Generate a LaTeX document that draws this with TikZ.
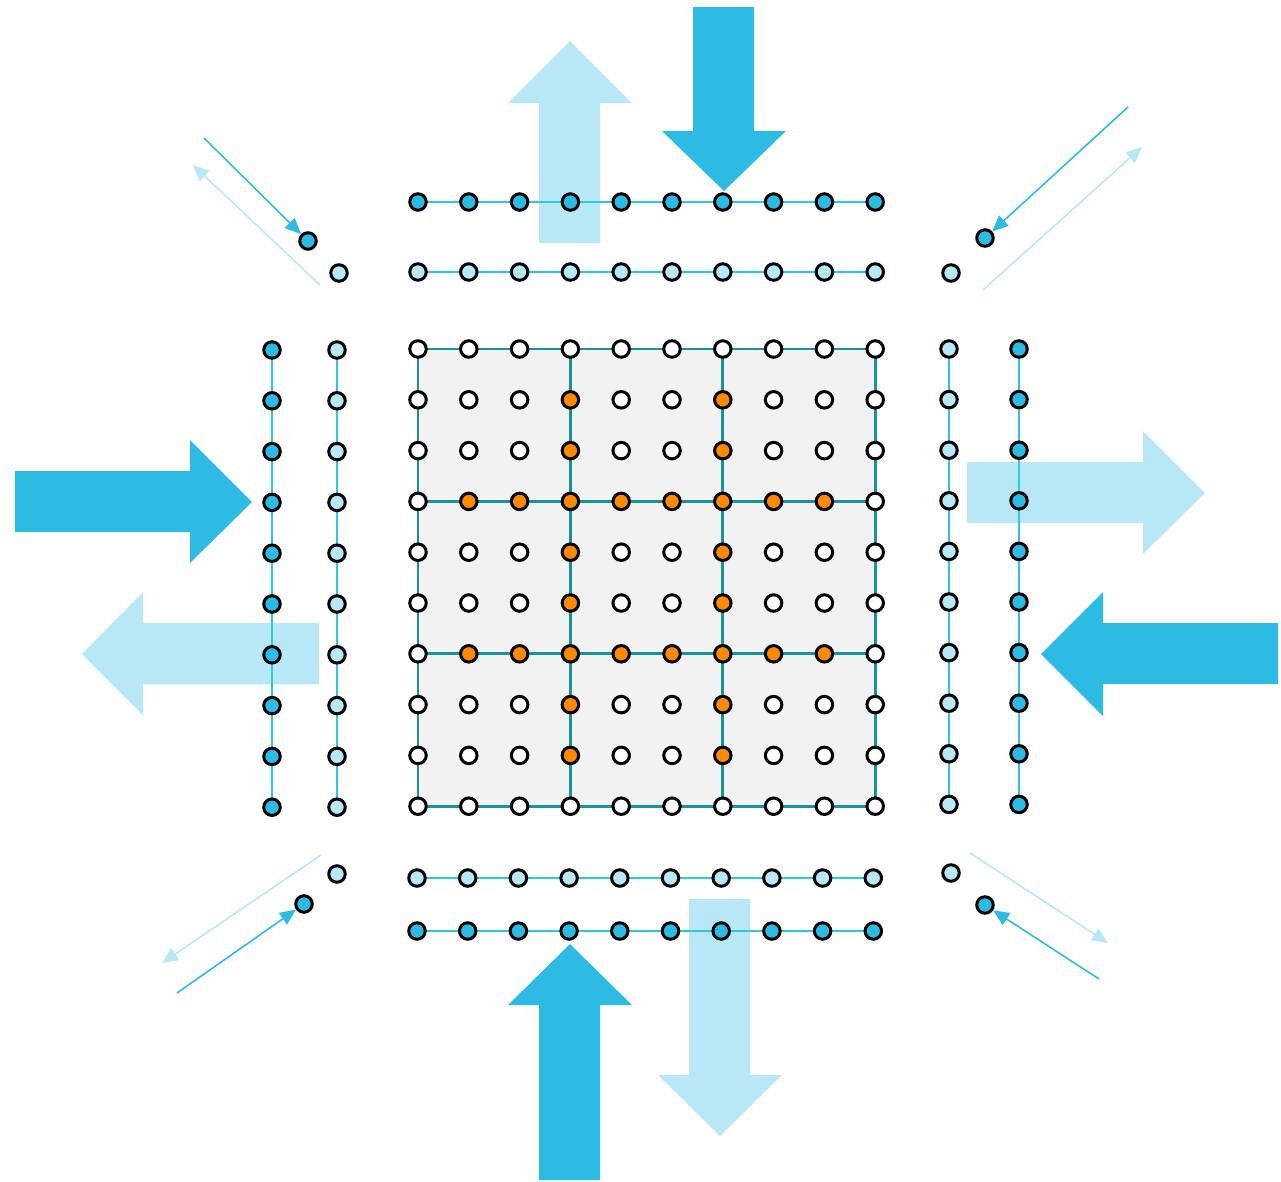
\documentclass[tikz,border=0pt]{standalone}
\usetikzlibrary{arrows.meta,backgrounds}
\definecolor{cdark}{HTML}{2EBBE3}
\definecolor{clight}{HTML}{B8E8F6}
\definecolor{corange}{HTML}{FF8A00}
\definecolor{cteal}{HTML}{17939B}
\definecolor{clink}{HTML}{2BC9DA}
\definecolor{cpanel}{HTML}{F2F2F2}
\tikzset{
  dot/.style={circle, draw=black, line width=0.85pt, minimum size=0.165cm, inner sep=0pt},
  darkdot/.style={dot, fill=cdark},
  lightdot/.style={dot, fill=clight},
  whitedot/.style={dot, fill=white},
  orangedot/.style={dot, fill=corange},
  link/.style={draw=clink, line width=0.4pt},
  gridline/.style={draw=cteal, line width=0.75pt},
  bigdark/.style={fill=cdark},
  biglight/.style={fill=clight},
  darkpush/.style={draw=cdark, line width=0.45pt, -{Triangle[length=0.16cm,width=0.14cm]}},
  lightpush/.style={draw=clight, line width=0.45pt, -{Triangle[length=0.16cm,width=0.14cm]}}
}
\begin{document}
\begin{tikzpicture}[x=0.01cm, y=-0.01cm]
\useasboundingbox (0,0) rectangle (1281,1181);

% central 10x10 lattice
\foreach \i in {0,...,9}{
  \foreach \j in {0,...,9}{
    \pgfmathsetmacro\px{418+50.8*\i}
    \pgfmathsetmacro\py{349+50.8*\j}
    \pgfmathtruncatemacro\onl{(\i==3)+(\i==6)+(\j==3)+(\j==6)}
    \pgfmathtruncatemacro\inner{(\i>0)*(\i<9)*(\j>0)*(\j<9)}
    \pgfmathtruncatemacro\isor{(\onl>0)*\inner}
    \ifnum\isor=1
      \node[orangedot] (g-\i-\j) at (\px,\py) {};
    \else
      \node[whitedot] (g-\i-\j) at (\px,\py) {};
    \fi
  }
}

% outer rows and columns
\foreach \i in {0,...,9}{
  \pgfmathsetmacro\px{418+50.8*\i}
  \pgfmathsetmacro\qx{417+50.7*\i}
  \pgfmathsetmacro\py{350+50.8*\i}
  \pgfmathsetmacro\qy{349+50.6*\i}
  \node[darkdot]  (top-\i)  at (\px,202) {};
  \node[lightdot] (tip-\i)  at (\px,272) {};
  \node[lightdot] (bip-\i)  at (\qx,878) {};
  \node[darkdot]  (bot-\i)  at (\qx,931) {};
  \node[darkdot]  (lef-\i)  at (272,\py) {};
  \node[lightdot] (lip-\i)  at (337,\py) {};
  \node[lightdot] (rip-\i)  at (949,\qy) {};
  \node[darkdot]  (rig-\i)  at (1019,\qy) {};
}

% corner dots
\node[darkdot]  (tl-d) at (308,241) {};
\node[lightdot] (tl-l) at (339,273) {};
\node[darkdot]  (tr-d) at (985,238) {};
\node[lightdot] (tr-l) at (951,273) {};
\node[lightdot] (bl-l) at (337,874) {};
\node[darkdot]  (bl-d) at (304,904) {};
\node[lightdot] (br-l) at (951,873) {};
\node[darkdot]  (br-d) at (985,905) {};

% free ends of the corner arrows
\coordinate (tl-a) at (204,138);
\coordinate (tl-b) at (320,285);
\coordinate (tl-c) at (193,165);
\coordinate (tr-a) at (1128,107);
\coordinate (tr-b) at (983,290);
\coordinate (tr-c) at (1142,147);
\coordinate (bl-a) at (177,993);
\coordinate (bl-b) at (321,855);
\coordinate (bl-c) at (162,963);
\coordinate (br-a) at (1099,979);
\coordinate (br-b) at (970,853);
\coordinate (br-c) at (1108,943);

\draw[darkpush]  (tl-a) -- (tl-d);
\draw[lightpush] (tl-b) -- (tl-c);
\draw[darkpush]  (tr-a) -- (tr-d);
\draw[lightpush] (tr-b) -- (tr-c);
\draw[darkpush]  (bl-a) -- (bl-d);
\draw[lightpush] (bl-b) -- (bl-c);
\draw[darkpush]  (br-a) -- (br-d);
\draw[lightpush] (br-b) -- (br-c);

\begin{scope}[on background layer]
  % large block arrows
  \fill[biglight] (539,243) -- (539,103) -- (508,103) -- (570,41) -- (632,103) -- (600,103) -- (600,243) -- cycle;
  \fill[bigdark]  (693,7) -- (693,131) -- (662,131) -- (724,191) -- (786,131) -- (754,131) -- (754,7) -- cycle;
  \fill[bigdark]  (15,471) -- (190,471) -- (190,440) -- (252,502) -- (190,563) -- (190,532) -- (15,532) -- cycle;
  \fill[biglight] (319,623) -- (143,623) -- (143,592) -- (82,654) -- (143,715) -- (143,684) -- (319,684) -- cycle;
  \fill[biglight] (967,462) -- (1143,462) -- (1143,431) -- (1205,493) -- (1143,554) -- (1143,523) -- (967,523) -- cycle;
  \fill[bigdark]  (1278,623) -- (1103,623) -- (1103,592) -- (1041,654) -- (1103,716) -- (1103,684) -- (1278,684) -- cycle;
  \fill[bigdark]  (539,1180) -- (539,1005) -- (508,1005) -- (570,944) -- (632,1005) -- (600,1005) -- (600,1180) -- cycle;
  \fill[biglight] (689,899) -- (689,1075) -- (658,1075) -- (720,1136) -- (782,1075) -- (750,1075) -- (750,899) -- cycle;

  % lattice panel and its partition
  \fill[cpanel] (g-0-0.center) rectangle (g-9-9.center);
  \draw[gridline] (g-0-0.center) rectangle (g-9-9.center);
  \draw[gridline] (g-3-0.center) -- (g-3-9.center);
  \draw[gridline] (g-6-0.center) -- (g-6-9.center);
  \draw[gridline] (g-0-3.center) -- (g-9-3.center);
  \draw[gridline] (g-0-6.center) -- (g-9-6.center);

  % thin links along the outer rows and columns
  \draw[link] (top-0.center) -- (top-9.center);
  \draw[link] (tip-0.center) -- (tip-9.center);
  \draw[link] (bip-0.center) -- (bip-9.center);
  \draw[link] (bot-0.center) -- (bot-9.center);
  \draw[link] (lef-0.center) -- (lef-9.center);
  \draw[link] (lip-0.center) -- (lip-9.center);
  \draw[link] (rip-0.center) -- (rip-9.center);
  \draw[link] (rig-0.center) -- (rig-9.center);
\end{scope}
\end{tikzpicture}
\end{document}
